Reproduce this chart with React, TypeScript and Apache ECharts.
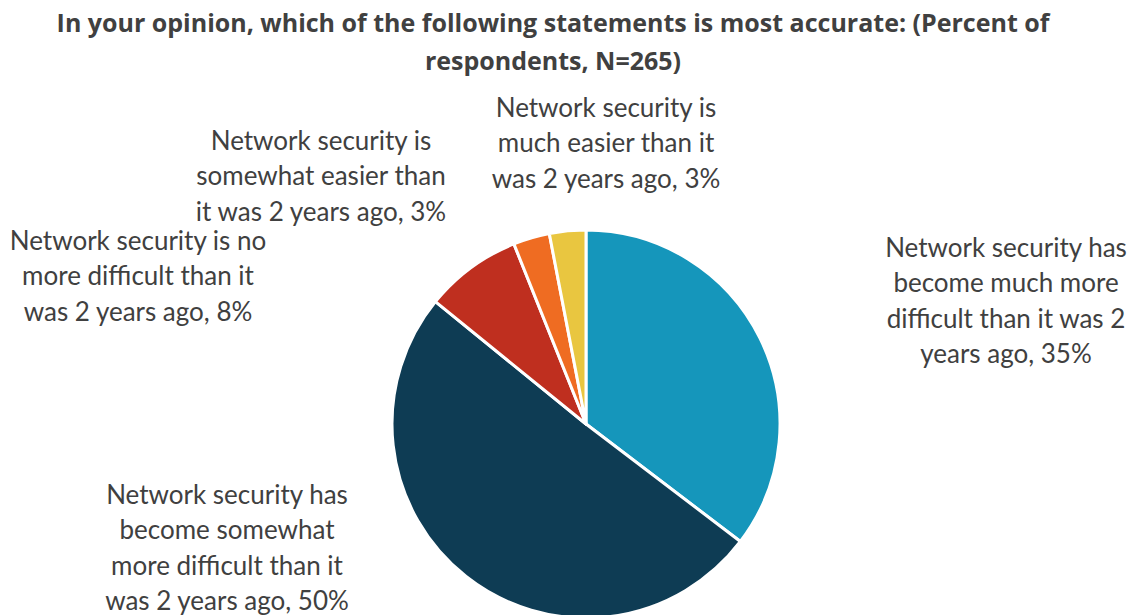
import React, { useEffect, useRef } from "react";
import * as echarts from "echarts";

const titleLines = [
  "In your opinion, which of the following statements is most accurate: (Percent of",
  "respondents, N=265)",
];

const categories = [
  "Network security has become much more difficult than it was 2 years ago",
  "Network security has become somewhat more difficult than it was 2 years ago",
  "Network security is no more difficult than it was 2 years ago",
  "Network security is somewhat easier than it was 2 years ago",
  "Network security is much easier than it was 2 years ago",
];
const values = [35, 50, 8, 3, 3];
const colors = ["#1596BB", "#0E3C54", "#BF2F1F", "#EF6C22", "#E9C640"];

const labelLines = [
  ["Network security has", "become much more", "difficult than it was 2", "years ago, 35%"],
  ["Network security has", "become somewhat", "more difficult than it", "was 2 years ago, 50%"],
  ["Network security is no", "more difficult than it", "was 2 years ago, 8%"],
  ["Network security is", "somewhat easier than", "it was 2 years ago, 3%"],
  ["Network security is", "much easier than it", "was 2 years ago, 3%"],
];
// label anchor centres (px)
const labelPos = [
  [1006, 300],
  [227, 547],
  [138, 275],
  [321, 175],
  [606, 142],
];

const FONT = "Lato, 'Noto Sans', sans-serif";
const TITLE_FONT = "'Open Sans', Lato, sans-serif";

export default function App() {
  const ref = useRef<HTMLDivElement>(null);
  useEffect(() => {
    if (!ref.current) return;
    const chart = echarts.init(ref.current, undefined, { renderer: "svg" });
    chart.setOption({
      animation: false,
      backgroundColor: "#ffffff",
      graphic: [
        {
          type: "text",
          x: 553,
          y: 3,
          style: {
            text: titleLines.join("\n"),
            textAlign: "center",
            fill: "#404040",
            font: `bold 25px ${TITLE_FONT}`,
            lineHeight: 38,
          },
        },
      ],
      series: [
        {
          type: "pie",
          center: [586, 424],
          radius: [0, 194],
          startAngle: 90,
          clockwise: true,
          avoidLabelOverlap: false,
          itemStyle: { borderColor: "#ffffff", borderWidth: 3 },
          labelLine: { show: false },
          label: {
            show: true,
            position: "outside",
            formatter: (p: any) => labelLines[p.dataIndex].join("\n"),
            color: "#404040",
            fontFamily: FONT,
            fontSize: 26,
            lineHeight: 35.5,
            align: "center",
          },
          labelLayout: (p: any) => ({
            x: labelPos[p.dataIndex][0],
            y: labelPos[p.dataIndex][1],
            align: "center",
            verticalAlign: "middle",
          }),
          data: categories.map((name, i) => ({
            name,
            value: values[i],
            itemStyle: { color: colors[i] },
          })),
        },
      ],
    });
    return () => chart.dispose();
  }, []);
  return (
    <div
      ref={ref}
      style={{ position: "fixed", left: 0, top: 0, width: 1136, height: 615 }}
    />
  );
}
